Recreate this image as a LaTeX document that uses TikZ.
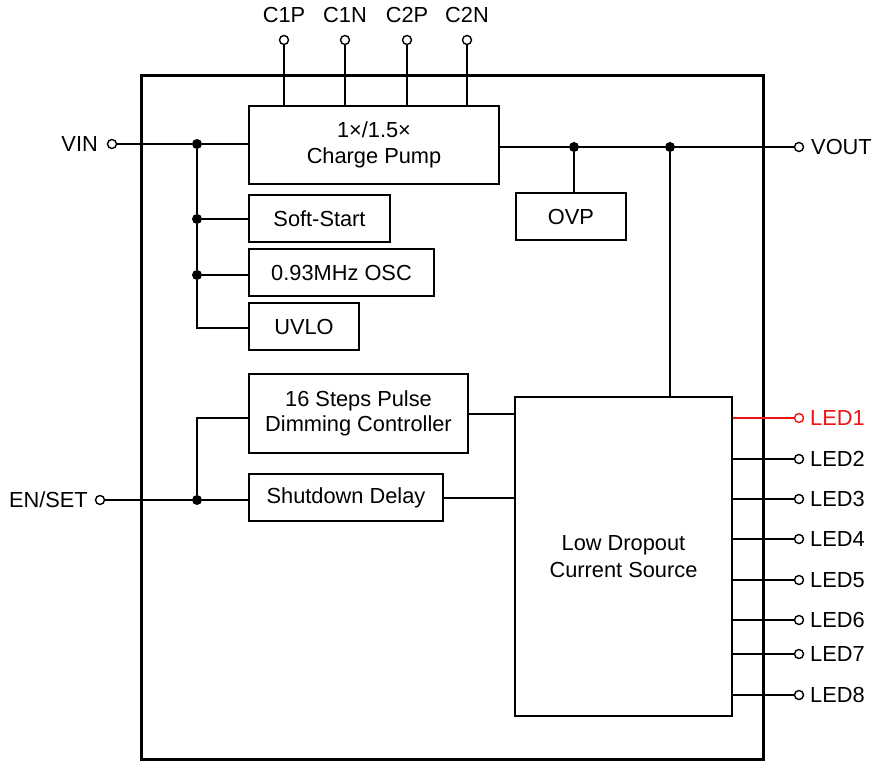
\documentclass[tikz,border=0pt]{standalone}
\usepackage{fontspec}
\setmainfont{Liberation Sans}
\definecolor{ledred}{RGB}{240,20,20}
\begin{document}
\begin{tikzpicture}[x=1pt,y=-1pt,
  every node/.style={font=\fontsize{21.8}{26}\selectfont},
  blk/.style={draw, line width=2.7pt, align=center, inner sep=0pt},
  wire/.style={line width=1.5pt},
  pin/.style={circle, draw, fill=white, minimum size=9pt, inner sep=0pt, line width=1.4pt},
  dot/.style={circle, fill=black, minimum size=10pt, inner sep=0pt},
  lblw/.style={anchor=west, inner sep=0pt, text height=15.5pt, text depth=0pt},
  lble/.style={anchor=east, inner sep=0pt, text height=15.5pt, text depth=0pt},
  lblc/.style={anchor=center, inner sep=0pt, text height=15.5pt, text depth=0pt}]
\useasboundingbox (0,0) rectangle (874,760);
% package outline
\draw[line width=3pt] (141,75) rectangle (763,759);

% blocks
\node[blk, minimum width=250pt, minimum height=78pt] (cp) at (374,145) {1×/1.5×\\Charge Pump};
\node[blk, minimum width=141pt, minimum height=47pt] (ss) at (319.5,218.5) {Soft-Start};
\node[blk, minimum width=185pt, minimum height=47pt] (osc) at (341.5,272.5) {0.93MHz OSC};
\node[blk, minimum width=110pt, minimum height=47pt] (uvlo) at (304,326.5) {UVLO};
\node[blk, minimum width=110pt, minimum height=47pt] (ovp) at (571,216.5) {OVP};
\node[blk, minimum width=219pt, minimum height=79pt, font=\fontsize{21.8}{25}\selectfont] (dim) at (358.5,413.5) {16 Steps Pulse\\Dimming Controller};
\node[blk, minimum width=194pt, minimum height=47pt] (sd) at (346,497.5) {Shutdown Delay};
\node[blk, minimum width=217pt, minimum height=319pt, font=\fontsize{21.8}{27}\selectfont] (ldo) at (623.5,556.5) {Low Dropout\\Current Source};

% top pins
\foreach \nm/\xx in {C1P/284, C1N/345, C2P/407, C2N/467}{
  \node[pin] (p\nm) at (\xx,40) {};
  \node[lblc] (l\nm) at (\xx,15) {\nm};
  \draw[wire] (p\nm) -- (p\nm |- cp.north);
}

% VIN
\node[pin] (pvin) at (112,144) {};
\node[lble] (lvin) at (98,144) {VIN};
\node[dot] (j1) at (197,144) {};
\node[dot] (j2) at (197,219) {};
\node[dot] (j3) at (197,275) {};
\coordinate (j4) at (197,328);
\draw[wire] (pvin) -- (j1) -- (j1 -| cp.west);
\draw[wire] (j1) -- (j2) -- (j3) -- (j4) -- (j4 -| uvlo.west);
\draw[wire] (j2) -- (j2 -| ss.west);
\draw[wire] (j3) -- (j3 -| osc.west);

% VOUT
\node[pin] (pvout) at (799,147) {};
\node[lblw] (lvout) at (811,147) {VOUT};
\node[dot] (j5) at (574,147) {};
\node[dot] (j6) at (670,147) {};
\draw[wire] (j5 -| cp.east) -- (j5) -- (j6) -- (pvout);
\draw[wire] (j5) -- (j5 |- ovp.north);
\draw[wire] (j6) -- (j6 |- ldo.north);

% EN/SET
\node[pin] (pen) at (100,500) {};
\node[lble] (len) at (88,500) {EN/SET};
\node[dot] (j7) at (197,500) {};
\coordinate (j8) at (197,418);
\draw[wire] (pen) -- (j7) -- (j7 -| sd.west);
\draw[wire] (j7) -- (j8) -- (j8 -| dim.west);

% block to LDO
\coordinate (k1) at (468,414);
\coordinate (k2) at (443,498);
\draw[wire] (k1) -- (k1 -| ldo.west);
\draw[wire] (k2) -- (k2 -| ldo.west);

% LED pins
\node[pin, draw=ledred] (pled1) at (799,418) {};
\node[lblw, text=ledred] (lled1) at (810,418) {LED1};
\draw[wire, draw=ledred] (pled1 -| ldo.east) -- (pled1);
\foreach \n/\yy in {2/459, 3/499, 4/539, 5/580, 6/620, 7/654, 8/695}{
  \node[pin] (pled\n) at (799,\yy) {};
  \node[lblw] (lled\n) at (810,\yy) {LED\n};
  \draw[wire] (pled\n -| ldo.east) -- (pled\n);
}
\end{tikzpicture}
\end{document}
